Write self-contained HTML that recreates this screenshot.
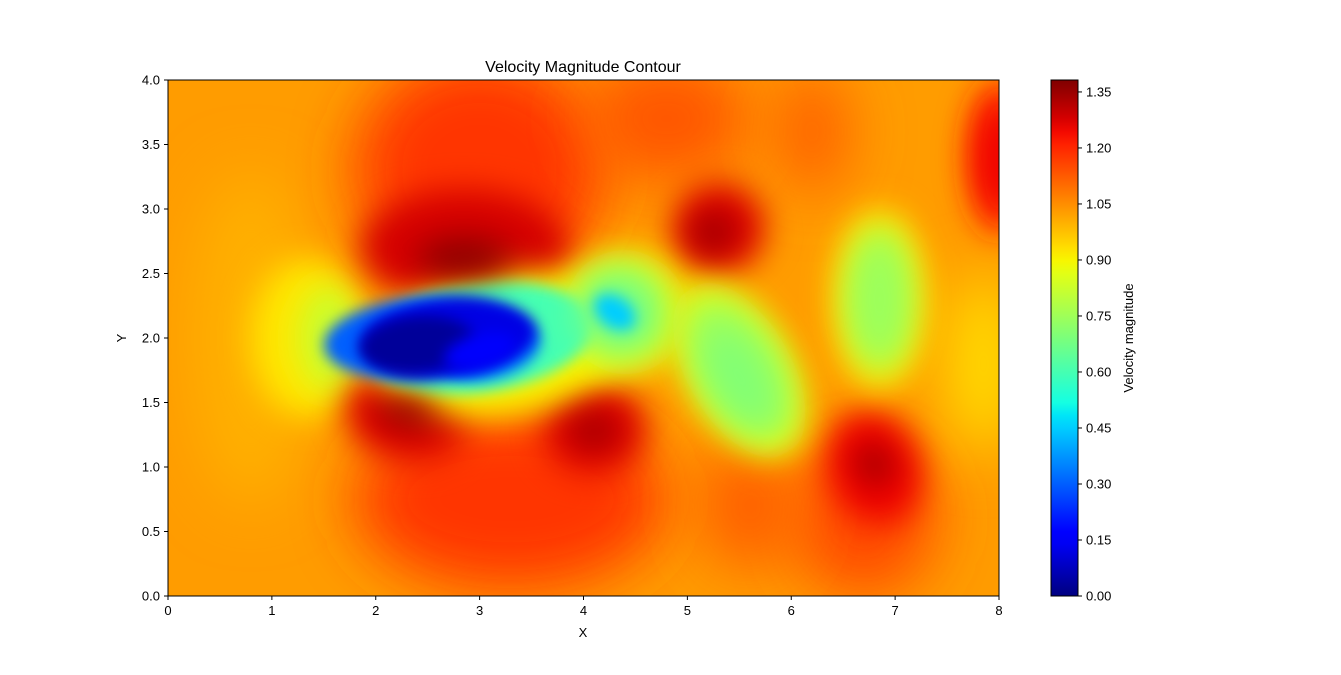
<!DOCTYPE html>
<html><head><meta charset="utf-8"><style>
body{margin:0;background:#fff;font-family:"Liberation Sans",sans-serif;}
svg text{font-family:"Liberation Sans",sans-serif;fill:#000;}
</style></head><body>
<svg id="chart" width="1341" height="670" xmlns="http://www.w3.org/2000/svg">
<defs>
<filter id="b1" x="-150%" y="-150%" width="400%" height="400%"><feGaussianBlur stdDeviation="30"/></filter>
<filter id="b2" x="-150%" y="-150%" width="400%" height="400%"><feGaussianBlur stdDeviation="16"/></filter>
<filter id="b3" x="-150%" y="-150%" width="400%" height="400%"><feGaussianBlur stdDeviation="7"/></filter>
<clipPath id="clip"><rect x="168" y="80" width="831" height="516"/></clipPath>
<linearGradient id="cbgrad" x1="0" y1="1" x2="0" y2="0"></linearGradient>
</defs>
<g id="plot" clip-path="url(#clip)"></g>
<rect x="168" y="80" width="831" height="516" fill="none" stroke="#000" stroke-width="1"/>
<g id="axes"></g>
<text x="583" y="72" font-size="16" text-anchor="middle">Velocity Magnitude Contour</text>
<text x="583" y="637" font-size="13" text-anchor="middle">X</text>
<text x="126" y="338" font-size="13" text-anchor="middle" transform="rotate(-90 126 338)">Y</text>
<rect x="1051" y="80" width="27" height="516" fill="url(#cbgrad)"/>
<rect x="1051" y="80" width="27" height="516" fill="none" stroke="#000"/>
<g id="cbaxis"></g>
<text x="1133" y="338" font-size="13" text-anchor="middle" transform="rotate(-90 1133 338)">Velocity magnitude</text>
</svg>
<script>
const xTicks=[0,1,2,3,4,5,6,7,8];
const yTicks=[0,0.5,1.0,1.5,2.0,2.5,3.0,3.5,4.0];
const cbTicks=[0,0.15,0.30,0.45,0.60,0.75,0.90,1.05,1.20,1.35];
const vmax=1.382;
const bgValue=1.03;
// feature blobs: centre x, centre y, radius x, radius y (data units), rotation (deg), value, blur level
const blobX=[0.8,3.0,3.3,6.7,4.8,5.6,7.85,8.0,6.2,1.35,1.55,2.85,2.3,4.1,5.3,6.8,3.2,4.4,5.5,6.85,3.0,2.45,3.1,4.35,5.5,6.85,2.7,2.4,3.0,4.3,5.5,6.85,2.85,2.3,4.1,5.25,6.8,8.0];
const blobY=[2.0,3.3,0.75,0.6,3.7,0.7,1.8,3.4,3.6,2.0,2.0,2.7,1.4,1.3,2.85,1.0,1.95,2.2,1.75,2.3,2.0,2.0,1.9,2.2,1.75,2.3,2.0,1.95,1.9,2.2,1.7,2.3,2.62,1.42,1.28,2.82,1.02,3.4];
const blobRX=[0.6,1.2,1.5,0.7,0.8,0.5,0.35,0.3,0.35,0.55,0.28,1.0,0.6,0.5,0.45,0.45,1.25,0.6,0.5,0.45,1.1,0.95,0.5,0.45,0.42,0.33,0.85,0.55,0.35,0.22,0.25,0.22,0.45,0.3,0.22,0.2,0.15,0.2];
const blobRY=[1.3,0.9,0.7,0.6,0.5,0.5,0.7,0.6,0.5,0.62,0.4,0.45,0.35,0.35,0.35,0.45,0.55,0.48,0.75,0.7,0.42,0.32,0.22,0.35,0.62,0.58,0.3,0.22,0.13,0.12,0.4,0.42,0.15,0.12,0.12,0.15,0.15,0.4];
const blobRot=[0,0,0,0,0,0,0,0,0,0,0,0,10,0,-20,-20,-8,30,-30,0,-8,-5,-15,35,-30,0,-5,-5,-15,35,-30,0,0,10,0,-25,-30,0];
const blobV=[1.0,1.18,1.18,1.15,1.13,1.12,0.93,1.22,1.12,0.92,0.82,1.28,1.27,1.27,1.27,1.25,0.9,0.88,0.88,0.92,0.6,0.3,0.35,0.68,0.75,0.78,0.12,0.03,0.15,0.45,0.7,0.74,1.37,1.36,1.35,1.35,1.36,1.25];
const blobBlur=[1,1,1,1,1,1,1,2,1,2,2,2,2,2,2,2,2,2,2,2,3,3,3,2,2,2,3,3,3,3,2,2,2,2,2,2,2,2];

const X0=168,X1=999,Y0=596,Y1=80;
const sx=v=>X0+v/8*(X1-X0);
const sy=v=>Y0-v/4*(Y0-Y1);
const sc=v=>596-v/vmax*516;
function interp(pts,t){for(let i=1;i<pts.length;i++){if(t<=pts[i][0]){const a=pts[i-1],b=pts[i];return a[1]+(b[1]-a[1])*(t-a[0])/(b[0]-a[0]);}}return pts[pts.length-1][1];}
function jet(v){const t=Math.max(0,Math.min(1,v/vmax));
const r=interp([[0,0],[0.35,0],[0.66,1],[0.89,1],[1,0.5]],t);
const g=interp([[0,0],[0.125,0],[0.375,1],[0.64,1],[0.91,0],[1,0]],t);
const b=interp([[0,0.5],[0.11,1],[0.34,1],[0.65,0],[1,0]],t);
return `rgb(${Math.round(r*255)},${Math.round(g*255)},${Math.round(b*255)})`;}
const NS="http://www.w3.org/2000/svg";
const plot=document.getElementById('plot');
const bg=document.createElementNS(NS,'rect');


bg.setAttribute('x',X0);bg.setAttribute('y',Y1);bg.setAttribute('width',X1-X0);bg.setAttribute('height',Y0-Y1);bg.setAttribute('fill',jet(bgValue));
plot.appendChild(bg);
for(let i=0;i<blobX.length;i++){
const e=document.createElementNS(NS,'ellipse');


const cx=sx(blobX[i]),cy=sy(blobY[i]);
e.setAttribute('cx',cx);e.setAttribute('cy',cy);
e.setAttribute('rx',blobRX[i]/8*(X1-X0));e.setAttribute('ry',blobRY[i]/4*(Y0-Y1));
e.setAttribute('transform',`rotate(${blobRot[i]} ${cx} ${cy})`);
e.setAttribute('fill',jet(blobV[i]));
e.setAttribute('filter',`url(#b${blobBlur[i]})`);
plot.appendChild(e);}
const ax=document.getElementById('axes');
xTicks.forEach(v=>{const x=sx(v);
const l=document.createElementNS(NS,'line');


l.setAttribute('x1',x);l.setAttribute('x2',x);l.setAttribute('y1',596);l.setAttribute('y2',600);l.setAttribute('stroke','#000');ax.appendChild(l);
const t=document.createElementNS(NS,'text');


t.setAttribute('x',x);t.setAttribute('y',615);t.setAttribute('font-size','13');t.setAttribute('text-anchor','middle');t.textContent=v;ax.appendChild(t);});
yTicks.forEach(v=>{const y=sy(v);
const l=document.createElementNS(NS,'line');


l.setAttribute('x1',164);l.setAttribute('x2',168);l.setAttribute('y1',y);l.setAttribute('y2',y);l.setAttribute('stroke','#000');ax.appendChild(l);
const t=document.createElementNS(NS,'text');


t.setAttribute('x',160);t.setAttribute('y',y+4.5);t.setAttribute('font-size','13');t.setAttribute('text-anchor','end');t.textContent=v.toFixed(1);ax.appendChild(t);});
const grad=document.getElementById('cbgrad');
for(let i=0;i<=40;i++){const s=document.createElementNS(NS,'stop');s.setAttribute('offset',i/40);s.setAttribute('stop-color',jet(i/40*vmax));grad.appendChild(s);}
const cb=document.getElementById('cbaxis');
cbTicks.forEach(v=>{const y=sc(v);
const l=document.createElementNS(NS,'line');


l.setAttribute('x1',1078);l.setAttribute('x2',1082);l.setAttribute('y1',y);l.setAttribute('y2',y);l.setAttribute('stroke','#000');cb.appendChild(l);
const t=document.createElementNS(NS,'text');


t.setAttribute('x',1086);t.setAttribute('y',y+4.5);t.setAttribute('font-size','13');t.textContent=v.toFixed(2);cb.appendChild(t);});
</script>
</body></html>
